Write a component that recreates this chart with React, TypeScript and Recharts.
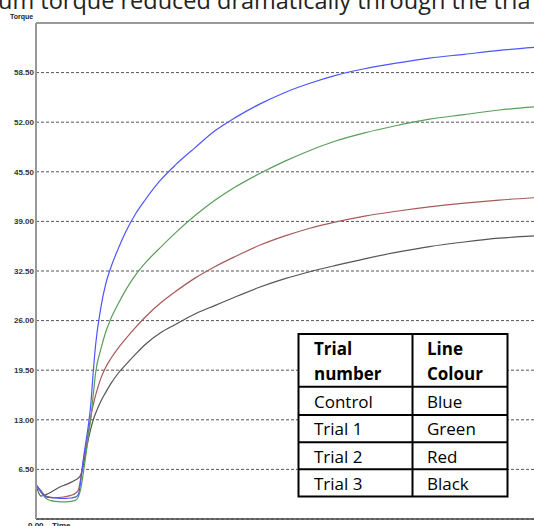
import { LineChart, Line, XAxis, YAxis, CartesianGrid, ReferenceLine } from "recharts";

// time axis (arbitrary units, 0..100 across the visible plot)
const times = [0, 1, 2, 3, 4, 5, 6, 7, 8, 8.5, 9, 9.5, 10, 10.5, 11, 11.5, 12, 13, 14, 15, 16.5, 18, 20, 22, 25, 28, 32, 36, 40, 45, 50, 55, 60, 66, 72, 79, 86, 93, 100];

const control = [4.5, 3.6, 2.9, 2.8, 2.75, 2.7, 2.7, 2.75, 2.9, 3.2, 5.0, 7.8, 10.0, 12.2, 15.0, 19.3, 23.0, 27.6, 30.8, 32.9, 35.4, 37.6, 40.0, 41.9, 44.4, 46.4, 48.7, 50.9, 52.6, 54.4, 55.9, 57.1, 58.1, 59.0, 59.7, 60.4, 60.9, 61.4, 61.8];
const trial1 = [4.4, 3.5, 2.7, 2.4, 2.3, 2.25, 2.25, 2.3, 2.5, 2.9, 4.0, 6.0, 8.3, 10.8, 13.1, 16.3, 19.3, 22.2, 24.5, 26.2, 28.2, 30.0, 32.0, 33.6, 35.6, 37.5, 39.8, 41.8, 43.5, 45.3, 46.9, 48.3, 49.5, 50.6, 51.5, 52.4, 53.0, 53.6, 54.0];
const trial2 = [4.5, 3.7, 3.0, 2.85, 2.8, 2.85, 2.95, 3.1, 3.4, 3.8, 5.4, 7.6, 9.4, 11.3, 13.4, 15.0, 16.3, 18.4, 19.9, 21.0, 22.4, 23.6, 25.1, 26.5, 28.3, 29.8, 31.6, 33.1, 34.4, 35.9, 37.1, 38.1, 38.9, 39.7, 40.3, 40.9, 41.4, 41.8, 42.1];
const trial3 = [4.4, 3.0, 3.2, 3.5, 3.9, 4.25, 4.5, 4.8, 5.15, 5.35, 5.8, 7.0, 8.8, 10.4, 11.8, 13.0, 13.9, 15.4, 16.6, 17.7, 19.1, 20.2, 21.6, 22.9, 24.4, 25.5, 26.9, 28.0, 29.1, 30.4, 31.5, 32.4, 33.2, 34.1, 34.9, 35.7, 36.3, 36.8, 37.1];

const yTicks = [6.5, 13, 19.5, 26, 32.5, 39, 45.5, 52, 58.5];

const tableRows = [
  ["Control", "Blue"],
  ["Trial 1", "Green"],
  ["Trial 2", "Red"],
  ["Trial 3", "Black"],
];

const data = times.map((t, i) => ({
  time: t,
  control: control[i],
  trial1: trial1[i],
  trial2: trial2[i],
  trial3: trial3[i],
}));

const tableFont = "'Open Sans', sans-serif";

export default function App() {
  return (
    <div style={{ position: "absolute", left: 0, top: 0, width: 534, height: 526, overflow: "hidden", background: "#fff" }}>
      <LineChart width={534} height={526} data={data} margin={{ top: 23, right: 0, bottom: 7, left: 0 }}>
        <CartesianGrid horizontal vertical={false} stroke="#555" strokeDasharray="3 2" />
        <XAxis dataKey="time" type="number" domain={[0, 100]} hide />
        <YAxis
          type="number"
          domain={[0, 65]}
          ticks={yTicks}
          width={36}
          tickLine={false}
          tickSize={0}
          tickMargin={2}
          axisLine={{ stroke: "#999", strokeWidth: 2 }}
          tick={{ fontSize: 8, fontWeight: "bold", fill: "#333", fontFamily: "Liberation Sans" }}
          tickFormatter={(v: number) => v.toFixed(2)}
        />
        <ReferenceLine y={65} stroke="#999" strokeWidth={2} />
        <ReferenceLine y={0} stroke="#444" strokeWidth={1.5} />
        <Line type="monotone" dataKey="trial3" stroke="#555" strokeWidth={1.2} dot={false} isAnimationActive={false} />
        <Line type="monotone" dataKey="trial2" stroke="#a85a5a" strokeWidth={1.2} dot={false} isAnimationActive={false} />
        <Line type="monotone" dataKey="trial1" stroke="#5a9e5a" strokeWidth={1.2} dot={false} isAnimationActive={false} />
        <Line type="monotone" dataKey="control" stroke="#4d55ff" strokeWidth={1.2} dot={false} isAnimationActive={false} />
      </LineChart>

      <svg width={534} height={526} style={{ position: "absolute", left: 0, top: 0, pointerEvents: "none" }}>
        <text x={-2} y={9} fontSize={23.5} fontFamily={tableFont} fill="#222">
          um torque reduced dramatically through the tria
        </text>
        <text x={10} y={19} fontSize={7} fontWeight="bold" fontFamily="Liberation Sans" fill="#222">Torque</text>
        <text x={28} y={528} fontSize={8} fontWeight="bold" fontFamily="Liberation Sans" fill="#222">0.00</text>
        <text x={52} y={528} fontSize={8} fontWeight="bold" fontFamily="Liberation Sans" fill="#222">Time</text>

        <rect x={298.5} y={334} width={209} height={162.5} fill="#fff" stroke="#000" strokeWidth={2} />
        <line x1={412.5} y1={334} x2={412.5} y2={496.5} stroke="#000" strokeWidth={2} />
        {[386.7, 415, 442.3, 469.3].map((y) => (
          <line key={y} x1={298.5} y1={y} x2={507.5} y2={y} stroke="#000" strokeWidth={2} />
        ))}
        <text x={314} y={355} fontSize={17} fontWeight="bold" fontFamily={tableFont} fill="#000">Trial</text>
        <text x={314} y={380} fontSize={17} fontWeight="bold" fontFamily={tableFont} fill="#000">number</text>
        <text x={427} y={355} fontSize={17} fontWeight="bold" fontFamily={tableFont} fill="#000">Line</text>
        <text x={427} y={380} fontSize={17} fontWeight="bold" fontFamily={tableFont} fill="#000">Colour</text>
        {tableRows.map((row, i) => (
          <g key={row[0]}>
            <text x={314} y={407.5 + i * 27.5} fontSize={17} fontFamily={tableFont} fill="#000">{row[0]}</text>
            <text x={427} y={407.5 + i * 27.5} fontSize={17} fontFamily={tableFont} fill="#000">{row[1]}</text>
          </g>
        ))}
      </svg>
    </div>
  );
}
